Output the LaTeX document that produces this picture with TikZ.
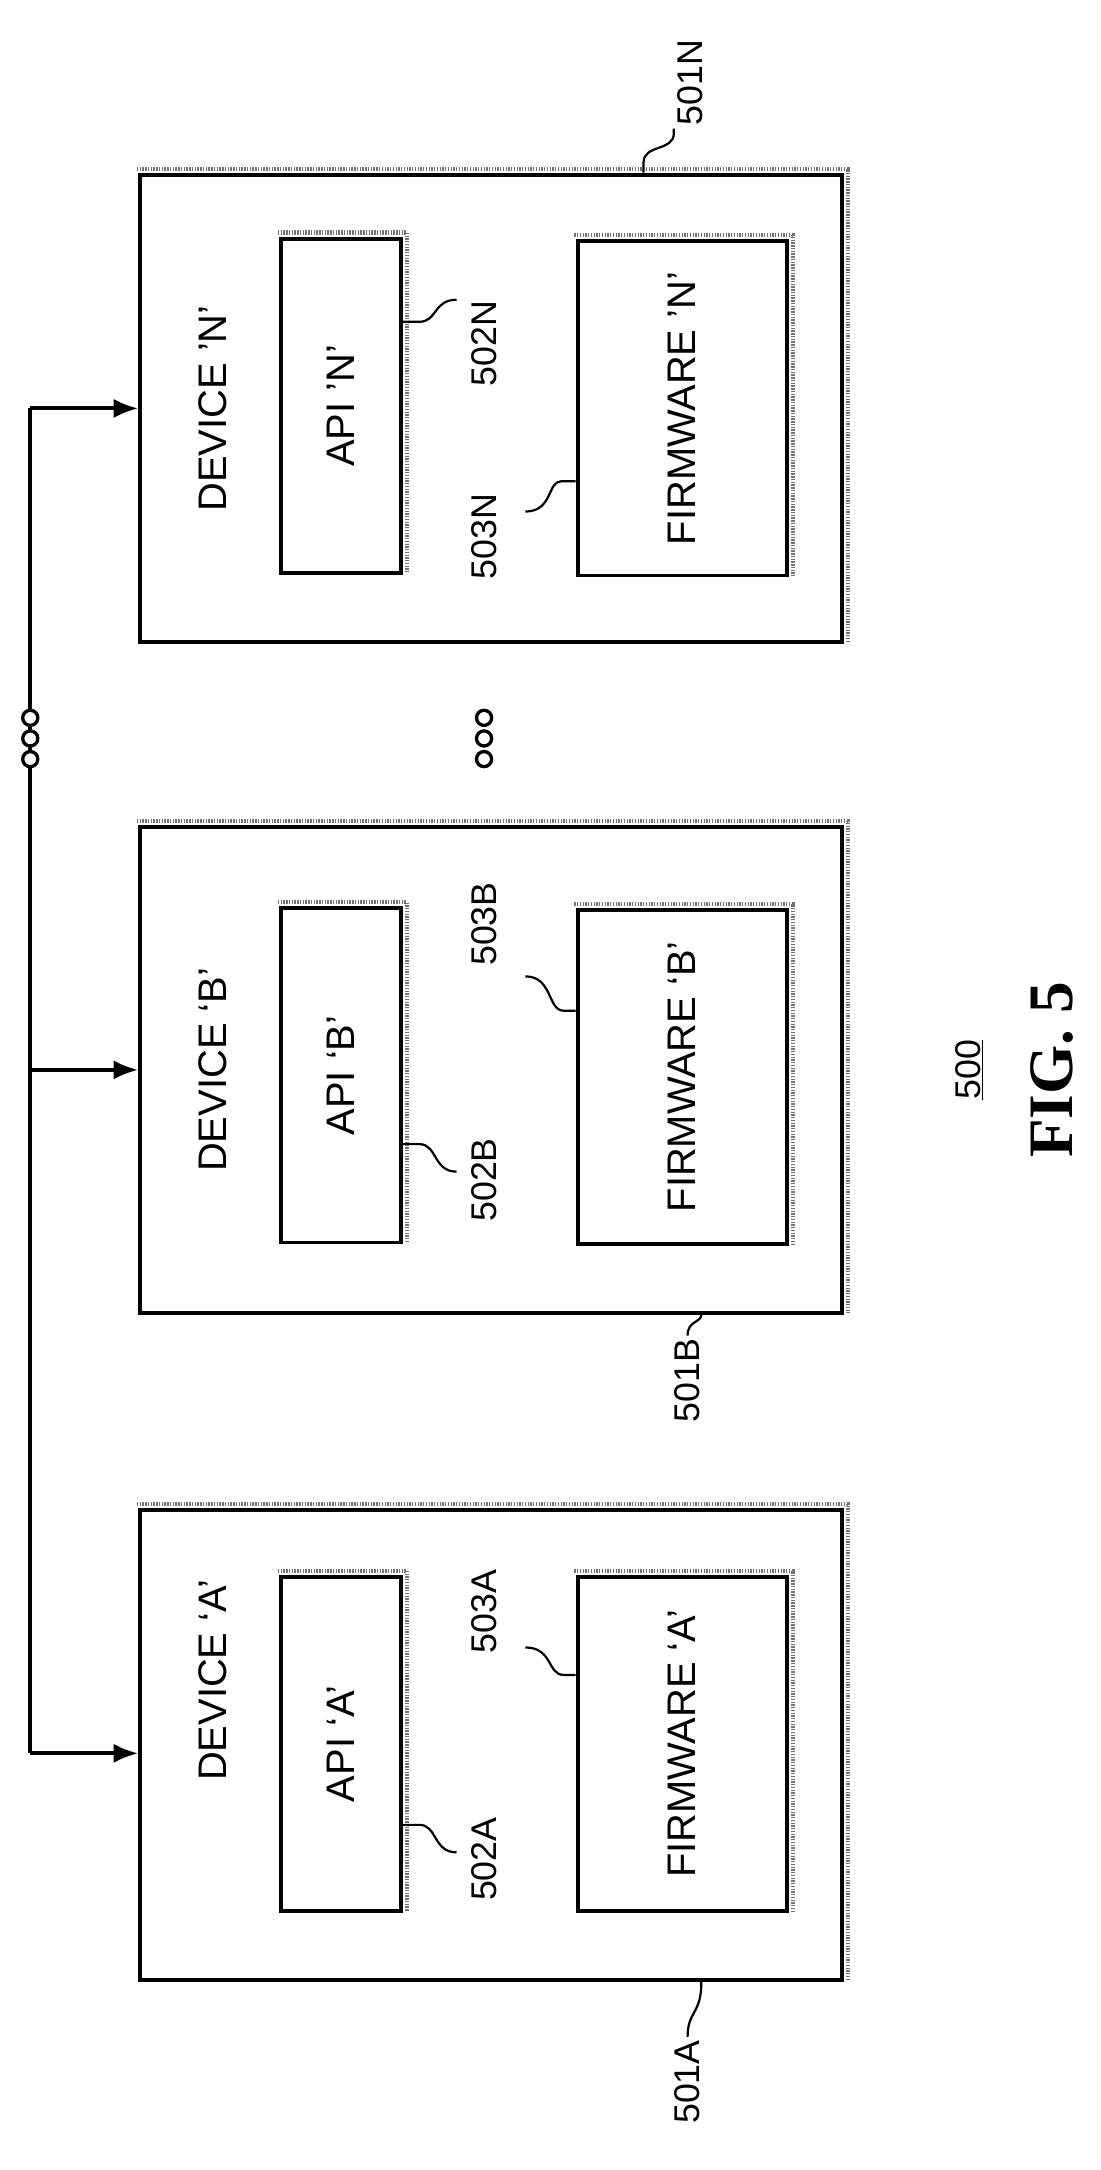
\documentclass[tikz,border=0pt]{standalone}
\usepackage{fontspec}
\setmainfont{Liberation Sans}
\newfontfamily\figfont{Liberation Serif}
\usetikzlibrary{arrows.meta}
\usetikzlibrary{positioning}

\begin{document}
\begin{tikzpicture}[
    x=1pt, y=-1pt,
    line width=2.8pt,
    font=\fontsize{29}{31}\selectfont
]
\tikzset{
    devbox/.style = {draw=black, minimum width=510pt, inner sep=0pt},
    inbox/.style = {draw=black, minimum height=243pt, inner sep=0pt},
    rottext/.style = {rotate=90, inner sep=1pt},
    numtext/.style = {rotate=90, inner sep=1pt, font=\fontsize{26}{28}\selectfont},
    shadow/.style = {draw=black!55, line width=3pt, dash pattern=on 1pt off 1pt},
    leader/.style = {line width=1.6pt},
    bus/.style = {-{Latex[length=18pt,width=14pt]}},
    dot/.style = {circle, draw=black, fill=white, line width=2.4pt, minimum size=11pt, inner sep=0pt}
}
\useasboundingbox (0,0) rectangle (800,1578);
% devices
\node[devbox, minimum height=340pt] at (357,297) (devn) {};
\node[devbox, minimum height=353pt] at (357,778) (devb) {};
\node[devbox, minimum height=342pt] at (357,1269) (deva) {};
% inner boxes
\node[inbox, minimum width=87pt] at (248,295) (apin) {};
\node[inbox, minimum width=152pt] at (496,297) (fwn) {};
\node[inbox, minimum width=87pt] at (248,782) (apib) {};
\node[inbox, minimum width=152pt] at (496,783) (fwb) {};
\node[inbox, minimum width=87pt] at (248,1268) (apia) {};
\node[inbox, minimum width=152pt] at (496,1268) (fwa) {};
\foreach \n in {devn,devb,deva,apin,fwn,apib,fwb,apia,fwa}
    \draw[shadow] ([xshift=-1pt,yshift=3pt]\n.north west) -- ([xshift=3pt,yshift=3pt]\n.north east) -- ([xshift=3pt,yshift=1pt]\n.south east);
% texts
\node[rottext] at (155,297) {DEVICE ’N’};
\node[rottext] at (155,778) {DEVICE ‘B’};
\node[rottext] at (155,1222) {DEVICE ‘A’};
\node[rottext] at (apin) {API ’N’};
\node[rottext] at (apib) {API ‘B’};
\node[rottext] at (apia) {API ‘A’};
\node[rottext] at (fwn) {FIRMWARE ’N’};
\node[rottext] at (fwb) {FIRMWARE ‘B’};
\node[rottext] at (fwa) {FIRMWARE ‘A’};
% bus
\coordinate (busn) at (22,297);
\coordinate (busb) at (22,778);
\coordinate (busa) at (22,1275);
\draw (busn) -- (busa);
\draw[bus] (busn) -- (devn.west |- busn);
\draw[bus] (busb) -- (devb.west |- busb);
\draw[bus] (busa) -- (deva.west |- busa);
\foreach \y in {522,537,552} {
    \node[dot] at (22,\y) {};
    \node[dot] at (352,\y) {};
}
% reference numerals
\node[numtext] at (502,60) (l501n) {501N};
\node[numtext] at (352,250) (l502n) {502N};
\node[numtext] at (352,390) (l503n) {503N};
\node[numtext] at (352,858) (l502b) {502B};
\node[numtext] at (352,672) (l503b) {503B};
\node[numtext] at (500,1004) (l501b) {501B};
\node[numtext] at (352,1352) (l502a) {502A};
\node[numtext] at (352,1172) (l503a) {503A};
\node[numtext] at (500,1514) (l501a) {501A};
\draw[leader] (devn.north -| 468,0) -- (468,118) .. controls (468,105) and (490,110) .. (490,97) -- (l501n.west -| 490,0);
\draw[leader] (apin.east |- 0,234) -- (305,234) .. controls (318,234) and (315,218) .. (332,218);
\draw[leader] (fwn.west |- 0,350) -- (408,350) .. controls (398,350) and (402,372) .. (382,372);
\draw[leader] (apib.east |- 0,832) -- (305,832) .. controls (318,832) and (315,852) .. (332,852);
\draw[leader] (fwb.west |- 0,735) -- (410,735) .. controls (398,735) and (402,710) .. (382,710);
\draw[leader] (devb.south -| 510,0) .. controls (510,962) and (500,960) .. (l501b.east);
\draw[leader] (apia.east |- 0,1327) -- (305,1327) .. controls (318,1327) and (315,1347) .. (332,1347);
\draw[leader] (fwa.west |- 0,1218) -- (410,1218) .. controls (398,1218) and (402,1198) .. (382,1198);
\draw[leader] (deva.south -| 510,0) .. controls (510,1465) and (500,1462) .. (l501a.east);
% figure caption
\node[numtext] at (705,778) (num) {\underline{500}};
\node[rottext, font=\figfont\bfseries\fontsize{46}{50}\selectfont] at (765,778) (fig) {FIG. 5};
\end{tikzpicture}
\end{document}
